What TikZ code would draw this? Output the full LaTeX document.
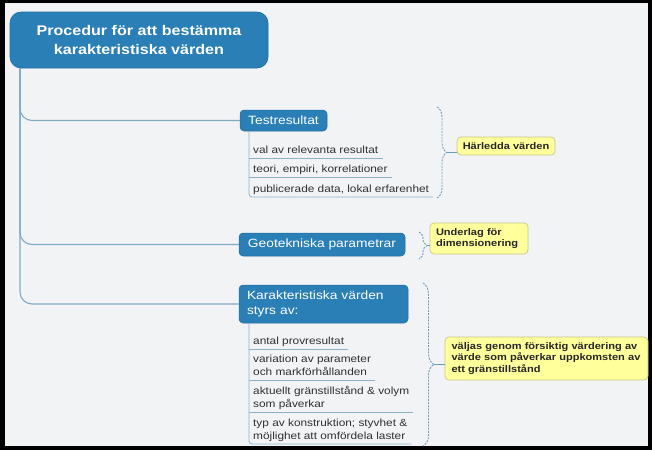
\documentclass[tikz,border=0pt]{standalone}
\usepackage{fontspec}
\setmainfont[FakeStretch=1.15]{Liberation Sans}
\usetikzlibrary{decorations.pathreplacing}
\definecolor{bgc}{HTML}{F2F3F5}
\definecolor{nodeblue}{HTML}{2A7FB6}
\definecolor{nodeborder}{HTML}{1F6C9E}
\definecolor{conncol}{HTML}{7FAAC5}
\definecolor{subcol}{HTML}{8DB2C8}
\definecolor{bracecol}{HTML}{6B9DC0}
\definecolor{notefill}{HTML}{FFFF9C}
\definecolor{noteborder}{HTML}{C8C48A}
\definecolor{itemtext}{HTML}{303030}
\tikzset{
  titlebox/.style={draw=nodeborder, line width=0.6pt, fill=nodeblue, rounded corners=11pt, text=white,
     font=\fontsize{14}{19}\selectfont\bfseries, align=center, minimum width=258pt, minimum height=56pt, inner sep=0pt},
  topic/.style={draw=nodeborder, line width=0.5pt, fill=nodeblue, rounded corners=4pt, text=white,
     font=\fontsize{12}{15}\selectfont, inner sep=0pt},
  item/.style={anchor=south west, inner xsep=4pt, inner ysep=1.5pt, text depth=2.5pt,
     font=\fontsize{10.3}{13.5}\selectfont, text=itemtext, align=left},
  uline/.style={draw=subcol, line width=0.8pt},
  subline/.style={draw=subcol, line width=0.8pt, rounded corners=3pt},
  conn/.style={draw=conncol, line width=1.1pt, rounded corners=12pt},
  bracestyle/.style={draw=bracecol, line width=0.9pt, dashed, dash pattern=on 2pt off 1.2pt, decorate},
  note/.style={draw=noteborder, line width=0.7pt, fill=notefill, rounded corners=4pt,
     font=\fontsize{9.6}{11.5}\selectfont\bfseries, text=black!85, align=left, inner sep=0pt},
}
\begin{document}
\begin{tikzpicture}[x=1pt,y=-1pt]
\useasboundingbox (0,0) rectangle (652,450);
\fill[black] (0,0) rectangle (652,450);
\fill[bgc] (5,3) rectangle (648,446);

% title
\node[titlebox] (title) at (139,40) {Procedur för att bestämma\\karakteristiska värden};
\coordinate (trunk) at (20,68);

% topics
\node[topic, minimum width=87pt, minimum height=21pt] (test) at (283.5,120.5) {Testresultat};
\node[topic, minimum width=166pt, minimum height=23pt] (geo) at (322,244.5) {Geotekniska parametrar};
\node[topic, text width=153pt, inner xsep=8pt, align=left, minimum height=38pt] (kar) at (323.5,304)
  {Karakteristiska värden\\styrs av:};

% trunk connectors
\draw[conn] (trunk) |- (test.west);
\draw[conn] (trunk) |- (geo.west);
\draw[conn] (trunk) |- (kar.west);

% Testresultat items
\node[item] (t1) at (249,158) {val av relevanta resultat};
\node[item] (t2) at (249,177) {teori, empiri, korrelationer};
\node[item] (t3) at (249,197) {publicerade data, lokal erfarenhet};
\draw[subline] (test.south -| t1.south west) |- (t3.south east);
\draw[uline] (t1.south west) -- (t1.south east);
\draw[uline] (t2.south west) -- (t2.south east);

% Karakteristiska items
\node[item] (k1) at (249,349) {antal provresultat};
\node[item] (k2) at (249,380) {variation av parameter\\och markförhållanden};
\node[item] (k3) at (249,412) {aktuellt gränstillstånd \& volym\\som påverkar};
\node[item] (k4) at (249,444) {typ av konstruktion; styvhet \&\\möjlighet att omfördela laster};
\draw[subline] (kar.south -| k1.south west) |- (k4.south east);
\draw[uline] (k1.south west) -- (k1.south east);
\draw[uline] (k2.south west) -- (k2.south east);
\draw[uline] (k3.south west) -- (k3.south east);

% notes
\node[note, minimum width=98pt, minimum height=18pt, align=center] (n1) at (506,146) {Härledda värden};
\node[note, minimum width=98pt, minimum height=31pt, text width=86pt] (n2) at (479,238.5) {Underlag för\\dimensionering};
\node[note, minimum width=203pt, minimum height=43pt, text width=190pt] (n3) at (546.5,358.5)
  {väljas genom försiktig värdering av\\värde som påverkar uppkomsten av\\ett gränstillstånd};

% braces
\coordinate (b1t) at (437,107);
\coordinate (b1b) at (437,198);
\coordinate (b1) at (447,152.5);
\draw[bracestyle, decoration={brace, amplitude=10pt}] (b1t) -- (b1b);
\draw[draw=bracecol, line width=0.9pt] (b1) -- (b1 -| n1.west);

\coordinate (b2t) at (419,232);
\coordinate (b2b) at (419,259);
\coordinate (b2) at (427,245.5);
\draw[bracestyle, decoration={brace, amplitude=8pt}] (b2t) -- (b2b);
\draw[draw=bracecol, line width=0.9pt] (b2) -- (b2 -| n2.west);

\coordinate (b3t) at (423,283);
\coordinate (b3b) at (423,446);
\coordinate (b3) at (434,364.5);
\draw[bracestyle, decoration={brace, amplitude=11pt}] (b3t) -- (b3b);
\draw[draw=bracecol, line width=0.9pt] (b3) -- (b3 -| n3.west);
\end{tikzpicture}
\end{document}
